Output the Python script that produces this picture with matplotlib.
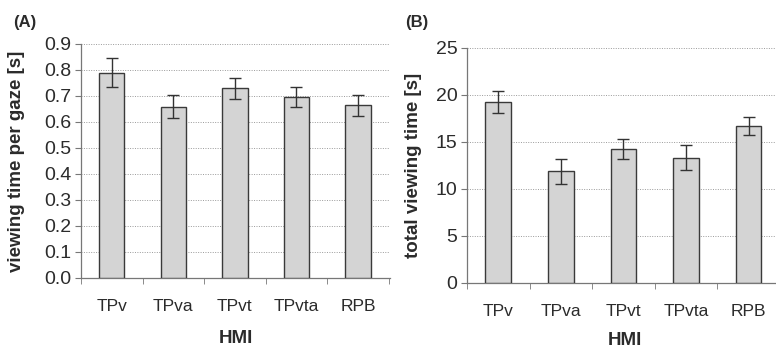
import numpy as np
import matplotlib.pyplot as plt
from matplotlib.ticker import FixedLocator, NullFormatter

plt.rcParams["font.family"] = ["Liberation Sans", "DejaVu Sans"]

# ------------------------------------------------------------
# Data
# ------------------------------------------------------------
categories = ["TPv", "TPva", "TPvt", "TPvta", "RPB"]

gaze_time = [0.79, 0.659, 0.73, 0.697, 0.664]
gaze_err = [0.055, 0.045, 0.04, 0.038, 0.04]

total_time = [19.2, 11.85, 14.2, 13.3, 16.7]
total_err = [1.2, 1.35, 1.05, 1.35, 0.95]

TEXT = "#2b2b2b"
BAR = "#d4d4d4"
EDGE = "#3a3a3a"


def style_panel(ax, values, errors, ylim, yticks, fmt, ylabel, xmax,
                ylab_x, xlab_y):
    x = np.arange(len(categories))
    ax.bar(x, values, width=0.41, color=BAR, edgecolor=EDGE,
           linewidth=1.0, zorder=3)
    ax.errorbar(x, values, yerr=errors, fmt="none", ecolor="#333333",
                elinewidth=1.0, capsize=4, capthick=1.0, zorder=4)

    ax.set_xlim(-0.5, xmax)
    ax.set_ylim(*ylim)
    ax.set_yticks(yticks)
    ax.set_yticklabels([fmt.format(v) for v in yticks])
    ax.yaxis.grid(True, linestyle=(0, (1, 1.5)), color="#9a9a9a",
                  linewidth=0.7, zorder=0)

    ax.set_xticks(x)
    ax.set_xticklabels(categories)
    ax.xaxis.set_minor_locator(FixedLocator(np.arange(-0.5, 5.0, 1.0)))
    ax.xaxis.set_minor_formatter(NullFormatter())
    ax.tick_params(axis="x", which="major", length=0, pad=15,
                   labelsize=12.5, labelcolor=TEXT)
    ax.tick_params(axis="x", which="minor", length=4, color="#777777",
                   direction="out")
    ax.tick_params(axis="y", length=4, color="#777777",
                   labelsize=14, labelcolor=TEXT, pad=3)

    for side in ("top", "right"):
        ax.spines[side].set_visible(False)
    for side in ("left", "bottom"):
        ax.spines[side].set_color("#777777")
        ax.spines[side].set_linewidth(0.9)

    ax.set_xlabel("HMI", fontsize=13.5, fontweight="bold", color=TEXT)
    ax.set_ylabel(ylabel, fontsize=13.5, fontweight="bold", color=TEXT)
    ax.xaxis.set_label_coords(0.5, xlab_y)
    ax.yaxis.set_label_coords(ylab_x, 0.5)


fig = plt.figure(figsize=(7.76, 3.49), dpi=100)

W, H = 776.0, 349.0
ax_a = fig.add_axes([81 / W, 1 - 278 / H, (390 - 81) / W, (278 - 44) / H])
ax_b = fig.add_axes([467 / W, 1 - 282.7 / H, (783 - 467) / W,
                     (282.7 - 47.7) / H])

style_panel(ax_a, gaze_time, gaze_err, (0, 0.9),
            np.round(np.arange(0, 0.91, 0.1), 1), "{:.1f}",
            "viewing time per gaze [s]", 4.52, -0.181, -0.222)
style_panel(ax_b, total_time, total_err, (0, 25),
            np.arange(0, 26, 5), "{:d}",
            "total viewing time [s]", 4.55, -0.142, -0.21)

fig.text(13 / W, 1 - 22 / H, "(A)", fontsize=12, fontweight="bold",
         color=TEXT, va="center", ha="left")
fig.text(405 / W, 1 - 22 / H, "(B)", fontsize=12, fontweight="bold",
         color=TEXT, va="center", ha="left")

fig.savefig("out.png", dpi=100, facecolor="white")
